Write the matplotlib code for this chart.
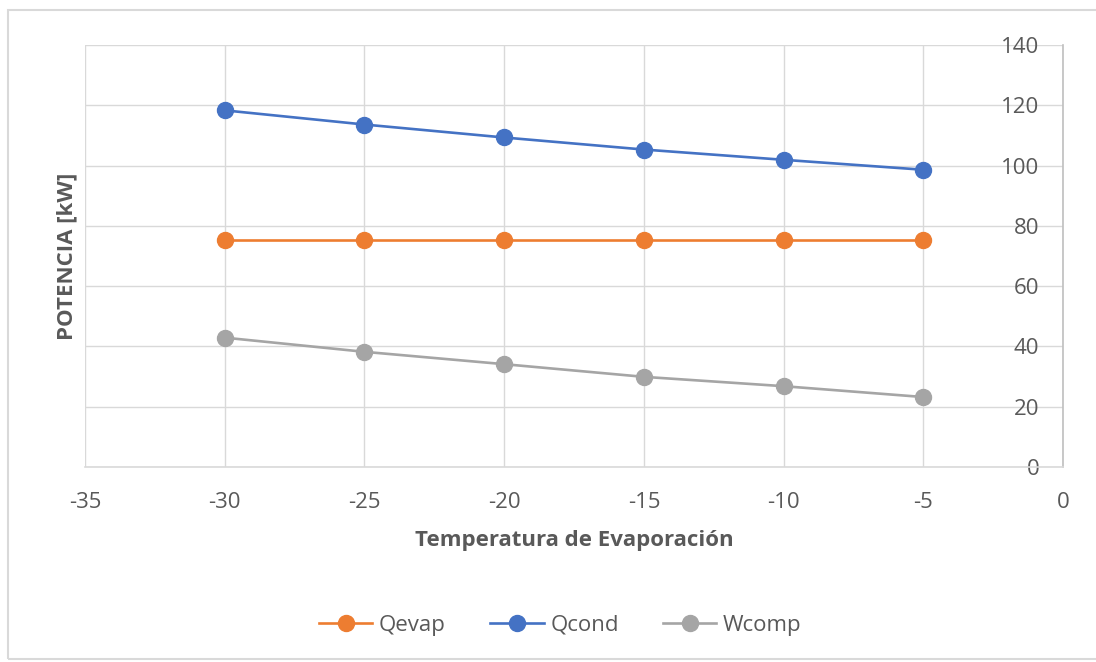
import matplotlib.pyplot as plt
from matplotlib.patches import Rectangle

# datos
temp = [-30, -25, -20, -15, -10, -5]
qevap = [75.3, 75.3, 75.3, 75.3, 75.3, 75.3]
qcond = [118.3, 113.6, 109.3, 105.3, 101.9, 98.6]
wcomp = [42.9, 38.2, 34.1, 29.9, 26.8, 23.2]

series = [('Qevap', qevap, '#ED7D31'), ('Qcond', qcond, '#4472C4'), ('Wcomp', wcomp, '#A5A5A5')]
txt = '#595959'

plt.rcParams['font.family'] = ['Open Sans', 'DejaVu Sans']
plt.rcParams['axes.unicode_minus'] = False

fig = plt.figure(figsize=(10.96, 6.62), dpi=100)
fig.patches.append(Rectangle((8 / 1096, 0.005), 1.0, 0.98, transform=fig.transFigure,
                             fill=False, edgecolor='#D9D9D9', linewidth=1.5))
ax = fig.add_axes([0.0776, 0.2946, 0.8923, 0.6375])

for name, vals, col in series:
    ax.plot(temp, vals, '-o', color=col, label=name, lw=1.9, markersize=11.5)

ax.set_xlim(-35, 0)
ax.set_ylim(0, 140)
ax.set_xticks(range(-35, 1, 5))
ax.set_yticks(range(0, 141, 20))
ax.grid(True, color='#D9D9D9', lw=1)
ax.set_axisbelow(True)

# eje vertical en x=0 (a la derecha), etiquetas a su izquierda
ax.spines['left'].set_position(('data', 0))
ax.spines['left'].set_color('#BFBFBF')
ax.spines['left'].set_linewidth(1.2)
ax.spines['bottom'].set_color('#D9D9D9')
ax.spines['bottom'].set_linewidth(1.2)
ax.spines['top'].set_visible(False)
ax.spines['right'].set_visible(False)
ax.tick_params(axis='y', length=0, pad=17, labelsize=16, labelcolor=txt)
ax.tick_params(axis='x', length=0, pad=18, labelsize=16, labelcolor=txt)

ax.set_xlabel('Temperatura de Evaporación', fontsize=16, fontweight='bold', color=txt, labelpad=12)
ax.set_ylabel('POTENCIA [kW]', fontsize=16, fontweight='bold', color=txt)
ax.yaxis.set_label_coords(-0.008, 0.5)

ax.legend(loc='center', bbox_to_anchor=(0.486, -0.375), ncol=3, frameon=False,
          fontsize=16, labelcolor=txt, handlelength=2.4, columnspacing=2.0, handletextpad=0.3)

fig.savefig('out.png', dpi=100)
